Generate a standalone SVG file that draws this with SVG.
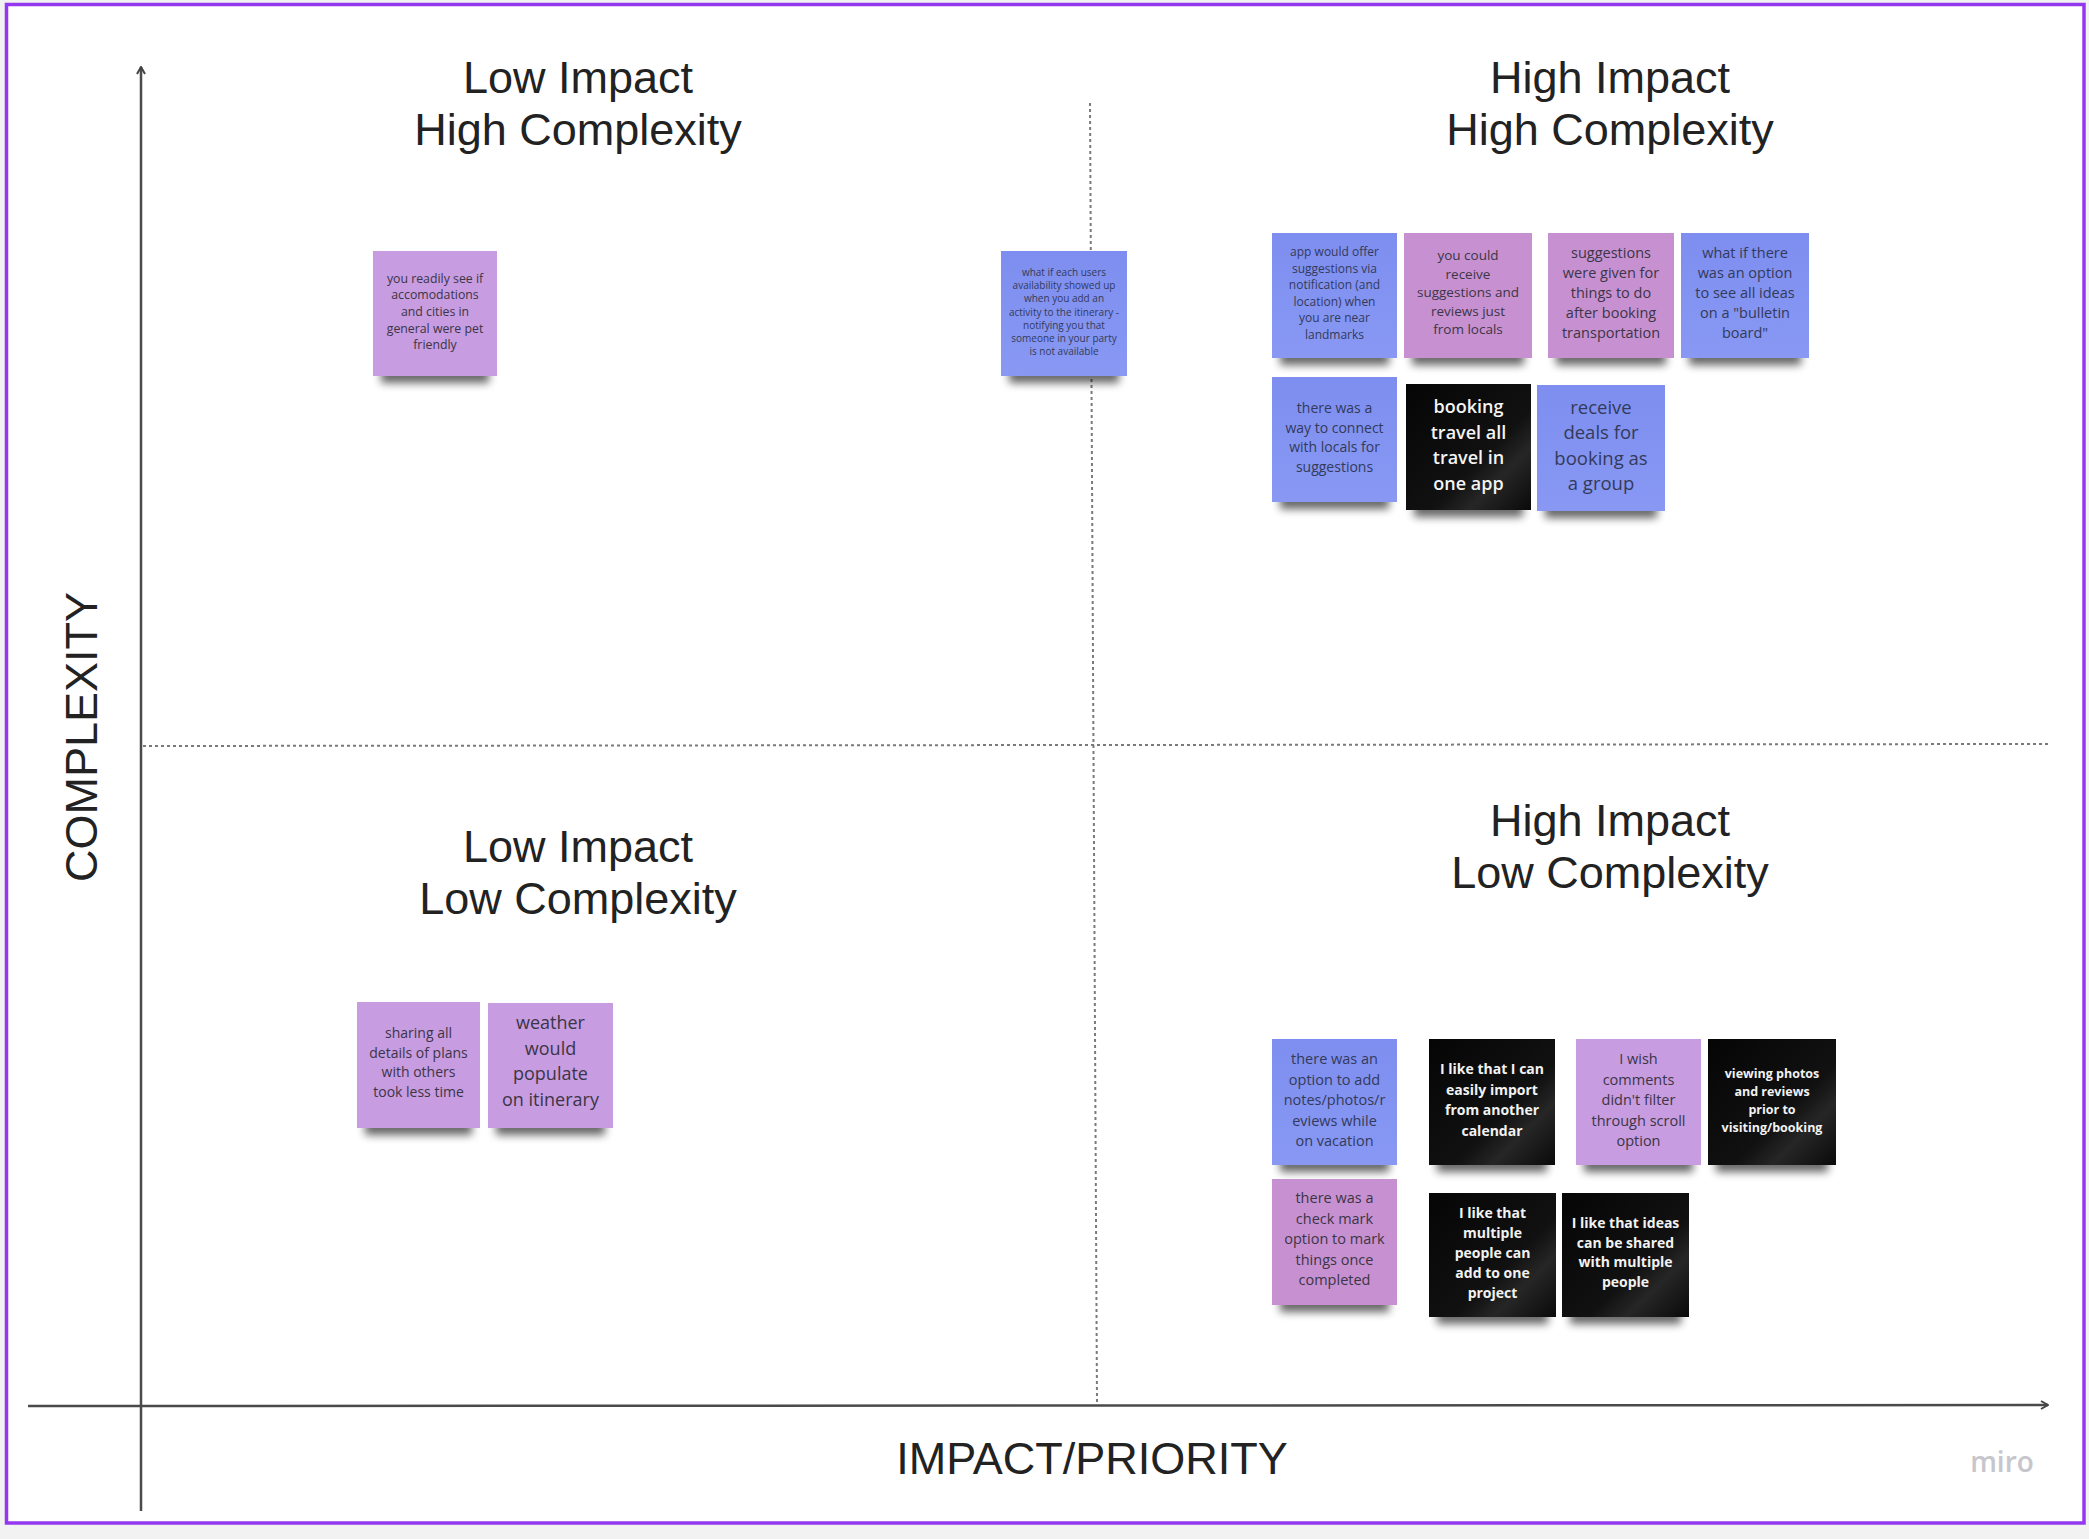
<svg xmlns="http://www.w3.org/2000/svg" width="2089" height="1539" viewBox="0 0 2089 1539">
<defs>
<style>
.ttl{font-family:"Liberation Sans",Arial,sans-serif;font-size:45px;fill:#222;text-anchor:middle}
.t{font-family:"Open Sans","DejaVu Sans",sans-serif;text-anchor:middle}
.dk{fill:#3b3546}
.db{fill:#333a5a}
.wt{fill:#f2f2f2;font-weight:700}
.lav{fill:#c79ce0}
.pink{fill:#c791d1}
.blue{fill:url(#gb)}
.blk{fill:url(#gk)}
.shd{fill:#000;opacity:.6;filter:url(#blur)}
.axis{stroke:#4a4a4a;stroke-width:2.5;fill:none}
.dot{stroke:#7a7a7a;stroke-width:2;stroke-dasharray:3 3;fill:none}
</style>
<filter id="blur" x="-20%" y="-100%" width="140%" height="300%"><feGaussianBlur stdDeviation="4.5"/></filter>
<linearGradient id="gb" x1="0" y1="0" x2="0" y2="1"><stop offset="0" stop-color="#7d8ef0"/><stop offset="1" stop-color="#8898f3"/></linearGradient>
<linearGradient id="gk" x1="0" y1="0" x2="1" y2="1"><stop offset="0" stop-color="#050505"/><stop offset=".6" stop-color="#111"/><stop offset=".75" stop-color="#262626"/><stop offset="1" stop-color="#0a0a0a"/></linearGradient>
<marker id="arr" viewBox="0 0 10 10" refX="9" refY="5" markerWidth="10" markerHeight="10" markerUnits="userSpaceOnUse" orient="auto"><path d="M2,1 L9,5 L2,9" stroke="#444" stroke-width="2" fill="none"/></marker>
</defs>
<rect width="2089" height="1539" fill="#f2f2f2"/>
<rect x="6.5" y="4.5" width="2077.5" height="1518.5" fill="#fff" stroke="#9438f0" stroke-width="3.5"/>

<g id="connectors">
<line class="dot" x1="1090" y1="103" x2="1097" y2="1403"/>
<line class="dot" x1="143" y1="746" x2="2049" y2="744"/>
<line class="axis" x1="141" y1="1511" x2="141" y2="67" marker-end="url(#arr)"/>
<line class="axis" x1="28" y1="1406" x2="2048" y2="1405" marker-end="url(#arr)"/>
</g>

<g id="labels">
<text class="ttl" x="578"><tspan x="578" y="93">Low Impact</tspan><tspan x="578" y="145">High Complexity</tspan></text>
<text class="ttl" x="1610"><tspan x="1610" y="93">High Impact</tspan><tspan x="1610" y="145">High Complexity</tspan></text>
<text class="ttl" x="578"><tspan x="578" y="862">Low Impact</tspan><tspan x="578" y="914">Low Complexity</tspan></text>
<text class="ttl" x="1610"><tspan x="1610" y="836">High Impact</tspan><tspan x="1610" y="888">Low Complexity</tspan></text>
<text class="ttl" transform="translate(97,737) rotate(-90)" x="0" y="0">COMPLEXITY</text>
<text class="ttl" x="1092" y="1474">IMPACT/PRIORITY</text>
<text x="2002" y="1472" font-family="'Open Sans',sans-serif" font-weight="600" font-size="28" fill="#c6c6cc" text-anchor="middle">miro</text>
</g>

<g id="n1"><rect class="shd" x="381" y="368" width="108" height="15"/><rect class="lav" x="373" y="251" width="124" height="125"/>
<text class="t dk" font-size="12.3"><tspan x="435" y="283">you readily see if</tspan><tspan x="435" y="299">accomodations</tspan><tspan x="435" y="316">and cities in</tspan><tspan x="435" y="333">general were pet</tspan><tspan x="435" y="349">friendly</tspan></text></g>

<g id="n2"><rect class="shd" x="1009" y="368" width="110" height="15"/><rect class="blue" x="1001" y="251" width="126" height="125"/>
<text class="t db" font-size="10"><tspan x="1064" y="275.5">what if each users</tspan><tspan x="1064" y="288.8">availability showed up</tspan><tspan x="1064" y="302.1">when you add an</tspan><tspan x="1064" y="315.5">activity to the itinerary -</tspan><tspan x="1064" y="328.7">notifying you that</tspan><tspan x="1064" y="342">someone in your party</tspan><tspan x="1064" y="355.3">is not available</tspan></text></g>

<g id="n3"><rect class="shd" x="1280" y="350" width="109" height="15"/><rect class="blue" x="1272" y="233" width="125" height="125"/>
<text class="t db" font-size="12"><tspan x="1334.5" y="256">app would offer</tspan><tspan x="1334.5" y="272.5">suggestions via</tspan><tspan x="1334.5" y="289">notification (and</tspan><tspan x="1334.5" y="305.5">location) when</tspan><tspan x="1334.5" y="322">you are near</tspan><tspan x="1334.5" y="338.5">landmarks</tspan></text></g>

<g id="n4"><rect class="shd" x="1412" y="350" width="112" height="15"/><rect class="pink" x="1404" y="233" width="128" height="125"/>
<text class="t dk" font-size="13.5"><tspan x="1468" y="260">you could</tspan><tspan x="1468" y="279">receive</tspan><tspan x="1468" y="297">suggestions and</tspan><tspan x="1468" y="316">reviews just</tspan><tspan x="1468" y="334">from locals</tspan></text></g>

<g id="n5"><rect class="shd" x="1556" y="350" width="110" height="15"/><rect class="pink" x="1548" y="233" width="126" height="125"/>
<text class="t dk" font-size="14.5"><tspan x="1611" y="258">suggestions</tspan><tspan x="1611" y="278">were given for</tspan><tspan x="1611" y="298">things to do</tspan><tspan x="1611" y="318">after booking</tspan><tspan x="1611" y="338">transportation</tspan></text></g>

<g id="n6"><rect class="shd" x="1689" y="350" width="112" height="15"/><rect class="blue" x="1681" y="233" width="128" height="125"/>
<text class="t db" font-size="14.5"><tspan x="1745" y="258">what if there</tspan><tspan x="1745" y="278">was an option</tspan><tspan x="1745" y="298">to see all ideas</tspan><tspan x="1745" y="318">on a "bulletin</tspan><tspan x="1745" y="338">board"</tspan></text></g>

<g id="n7"><rect class="shd" x="1280" y="494" width="109" height="15"/><rect class="blue" x="1272" y="377" width="125" height="125"/>
<text class="t db" font-size="14"><tspan x="1334.5" y="413">there was a</tspan><tspan x="1334.5" y="432.5">way to connect</tspan><tspan x="1334.5" y="452">with locals for</tspan><tspan x="1334.5" y="471.5">suggestions</tspan></text></g>

<g id="n8"><rect class="shd" x="1414" y="502" width="109" height="15"/><rect class="blk" x="1406" y="384" width="125" height="126"/>
<text class="t" font-size="18" font-weight="600" fill="#f4f4f4"><tspan x="1468.5" y="413">booking</tspan><tspan x="1468.5" y="439">travel all</tspan><tspan x="1468.5" y="464">travel in</tspan><tspan x="1468.5" y="490">one app</tspan></text></g>

<g id="n9"><rect class="shd" x="1545" y="503" width="112" height="15"/><rect class="blue" x="1537" y="385" width="128" height="126"/>
<text class="t db" font-size="18.5"><tspan x="1601" y="413.5">receive</tspan><tspan x="1601" y="439">deals for</tspan><tspan x="1601" y="464.5">booking as</tspan><tspan x="1601" y="490">a group</tspan></text></g>

<g id="n10"><rect class="shd" x="365" y="1120" width="107" height="15"/><rect class="lav" x="357" y="1002" width="123" height="126"/>
<text class="t dk" font-size="14"><tspan x="418.5" y="1038">sharing all</tspan><tspan x="418.5" y="1057.5">details of plans</tspan><tspan x="418.5" y="1077">with others</tspan><tspan x="418.5" y="1096.5">took less time</tspan></text></g>

<g id="n11"><rect class="shd" x="496" y="1120" width="109" height="15"/><rect class="lav" x="488" y="1003" width="125" height="125"/>
<text class="t dk" font-size="18"><tspan x="550.5" y="1029">weather</tspan><tspan x="550.5" y="1055">would</tspan><tspan x="550.5" y="1080">populate</tspan><tspan x="550.5" y="1106">on itinerary</tspan></text></g>

<g id="n12"><rect class="shd" x="1280" y="1157" width="109" height="15"/><rect class="blue" x="1272" y="1039" width="125" height="126"/>
<text class="t db" font-size="14.5"><tspan x="1334.5" y="1064">there was an</tspan><tspan x="1334.5" y="1084.5">option to add</tspan><tspan x="1334.5" y="1105">notes/photos/r</tspan><tspan x="1334.5" y="1125.5">eviews while</tspan><tspan x="1334.5" y="1146">on vacation</tspan></text></g>

<g id="n13"><rect class="shd" x="1437" y="1157" width="110" height="15"/><rect class="blk" x="1429" y="1039" width="126" height="126"/>
<text class="t wt" font-size="14"><tspan x="1492" y="1074">I like that I can</tspan><tspan x="1492" y="1094.5">easily import</tspan><tspan x="1492" y="1115">from another</tspan><tspan x="1492" y="1135.5">calendar</tspan></text></g>

<g id="n14"><rect class="shd" x="1584" y="1157" width="109" height="15"/><rect class="lav" x="1576" y="1039" width="125" height="126"/>
<text class="t dk" font-size="14.5"><tspan x="1638.5" y="1064">I wish</tspan><tspan x="1638.5" y="1084.5">comments</tspan><tspan x="1638.5" y="1105">didn't filter</tspan><tspan x="1638.5" y="1125.5">through scroll</tspan><tspan x="1638.5" y="1146">option</tspan></text></g>

<g id="n15"><rect class="shd" x="1716" y="1157" width="112" height="15"/><rect class="blk" x="1708" y="1039" width="128" height="126"/>
<text class="t wt" font-size="12.5"><tspan x="1772" y="1077.5">viewing photos</tspan><tspan x="1772" y="1095.5">and reviews</tspan><tspan x="1772" y="1114">prior to</tspan><tspan x="1772" y="1132">visiting/booking</tspan></text></g>

<g id="n16"><rect class="shd" x="1280" y="1297" width="109" height="15"/><rect class="pink" x="1272" y="1179" width="125" height="126"/>
<text class="t dk" font-size="14.5"><tspan x="1334.5" y="1203">there was a</tspan><tspan x="1334.5" y="1223.5">check mark</tspan><tspan x="1334.5" y="1244">option to mark</tspan><tspan x="1334.5" y="1264.5">things once</tspan><tspan x="1334.5" y="1285">completed</tspan></text></g>

<g id="n17"><rect class="shd" x="1437" y="1309" width="111" height="15"/><rect class="blk" x="1429" y="1193" width="127" height="124"/>
<text class="t wt" font-size="14"><tspan x="1492.5" y="1218">I like that</tspan><tspan x="1492.5" y="1238">multiple</tspan><tspan x="1492.5" y="1258">people can</tspan><tspan x="1492.5" y="1278">add to one</tspan><tspan x="1492.5" y="1298">project</tspan></text></g>

<g id="n18"><rect class="shd" x="1570" y="1309" width="111" height="15"/><rect class="blk" x="1562" y="1193" width="127" height="124"/>
<text class="t wt" font-size="14"><tspan x="1625.5" y="1228">I like that ideas</tspan><tspan x="1625.5" y="1247.5">can be shared</tspan><tspan x="1625.5" y="1267">with multiple</tspan><tspan x="1625.5" y="1286.5">people</tspan></text></g>
</svg>
